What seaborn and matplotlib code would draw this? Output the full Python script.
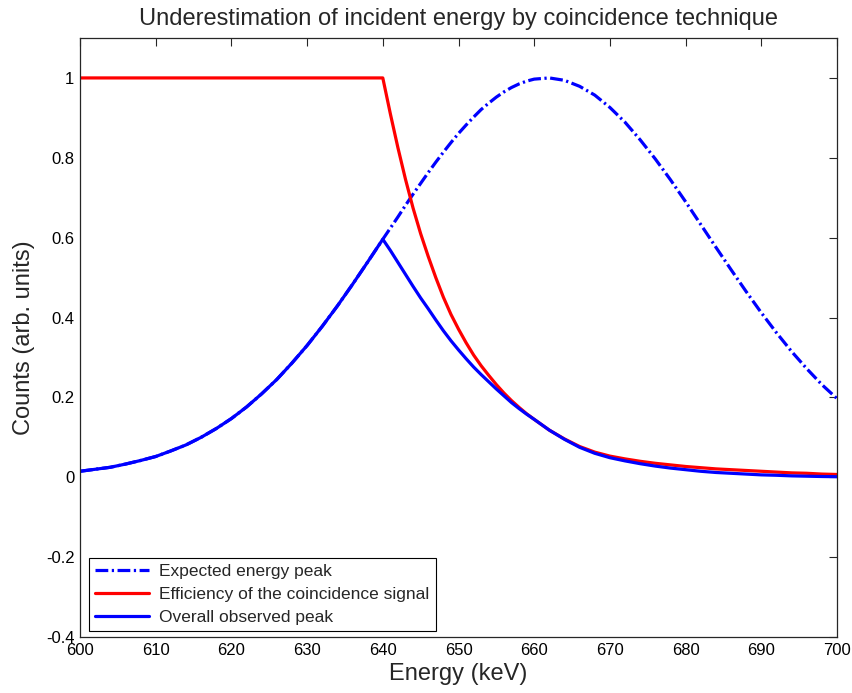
import matplotlib
matplotlib.use("Agg")
import matplotlib.pyplot as plt
import seaborn as sns
import pandas as pd

energy = [600, 602, 604, 606, 608, 610, 612, 614, 616, 618,
          620, 622, 624, 626, 628, 630, 632, 634, 636, 638,
          640, 641, 642, 643, 644, 645, 646, 647, 648, 649,
          650, 651, 652, 653, 654, 655, 656, 657, 658, 659,
          660, 662, 664, 666, 668, 670, 672, 674, 676, 678,
          680, 682, 684, 686, 688, 690, 692, 694, 696, 698, 700]

expected = [0.015, 0.020, 0.025, 0.033, 0.042, 0.052, 0.066, 0.081, 0.100, 0.122,
            0.147, 0.176, 0.209, 0.245, 0.286, 0.330, 0.378, 0.429, 0.483, 0.539,
            0.596, 0.624, 0.652, 0.681, 0.709, 0.736, 0.763, 0.789, 0.814, 0.838,
            0.861, 0.882, 0.902, 0.921, 0.937, 0.952, 0.965, 0.976, 0.985, 0.992,
            0.997, 1.000, 0.994, 0.979, 0.957, 0.926, 0.889, 0.845, 0.797, 0.745,
            0.690, 0.633, 0.576, 0.520, 0.465, 0.412, 0.362, 0.315, 0.272, 0.232, 0.197]

efficiency = [1.0, 1.0, 1.0, 1.0, 1.0, 1.0, 1.0, 1.0, 1.0, 1.0,
              1.0, 1.0, 1.0, 1.0, 1.0, 1.0, 1.0, 1.0, 1.0, 1.0,
              1.0, 0.910, 0.825, 0.746, 0.674, 0.610, 0.553, 0.500, 0.451, 0.408,
              0.371, 0.337, 0.306, 0.279, 0.255, 0.232, 0.211, 0.192, 0.175, 0.159,
              0.145, 0.118, 0.096, 0.077, 0.063, 0.053, 0.046, 0.040, 0.035, 0.031,
              0.027, 0.024, 0.021, 0.019, 0.017, 0.015, 0.013, 0.011, 0.010, 0.008, 0.007]

observed = [0.015, 0.020, 0.025, 0.033, 0.042, 0.052, 0.066, 0.081, 0.100, 0.122,
            0.147, 0.176, 0.209, 0.245, 0.286, 0.330, 0.378, 0.429, 0.483, 0.539,
            0.596, 0.568, 0.538, 0.508, 0.478, 0.449, 0.422, 0.394, 0.367, 0.342,
            0.319, 0.297, 0.276, 0.257, 0.239, 0.221, 0.204, 0.187, 0.172, 0.158,
            0.145, 0.118, 0.095, 0.075, 0.060, 0.049, 0.041, 0.034, 0.028, 0.023,
            0.019, 0.015, 0.012, 0.010, 0.008, 0.006, 0.005, 0.0035, 0.0027, 0.0019, 0.0014]

labels = ["Expected energy peak", "Efficiency of the coincidence signal", "Overall observed peak"]
x_ticks = [600, 610, 620, 630, 640, 650, 660, 670, 680, 690, 700]
y_ticks = [-0.4, -0.2, 0, 0.2, 0.4, 0.6, 0.8, 1]
y_tick_labels = ["-0.4", "-0.2", "0", "0.2", "0.4", "0.6", "0.8", "1"]

sns.set_style("white")
plt.rcParams["font.family"] = ["Liberation Sans", "DejaVu Sans"]

df = pd.DataFrame({"energy": energy, "expected": expected,
                   "efficiency": efficiency, "observed": observed})

fig = plt.figure(figsize=(8.52, 6.93), dpi=100)
ax = fig.add_axes([80 / 852, 1 - 637 / 693, (837 - 80) / 852, (637 - 38) / 693])

sns.lineplot(data=df, x="energy", y="expected", ax=ax, color="#0000ff",
             linewidth=2.3, label=labels[0])
ax.lines[-1].set_dashes([4, 1.1, 0.7, 1.1])
sns.lineplot(data=df, x="energy", y="efficiency", ax=ax, color="#ff0000",
             linewidth=2.3, label=labels[1])
sns.lineplot(data=df, x="energy", y="observed", ax=ax, color="#0000ff",
             linewidth=2.3, label=labels[2])

ax.set_xlim(600, 700)
ax.set_ylim(-0.4, 1.1)
ax.set_xticks(x_ticks)
ax.set_yticks(y_ticks)
ax.set_yticklabels(y_tick_labels)
ax.tick_params(direction="in", length=6, width=0.8, top=True, right=True,
               labelsize=12, colors="#262626", labelcolor="black", pad=4)
for s in ax.spines.values():
    s.set_visible(True)
    s.set_color("#262626")
    s.set_linewidth(0.9)

ax.set_xlabel("Energy (keV)", fontsize=17, labelpad=4)
ax.set_ylabel("Counts (arb. units)", fontsize=17, labelpad=8)
ax.set_title("Underestimation of incident energy by coincidence technique",
             fontsize=17, pad=9)

leg = ax.legend(loc="lower left", fontsize=12.5, frameon=True, fancybox=False,
                edgecolor="black", framealpha=1, borderpad=0.35,
                handlelength=3.1, handletextpad=0.6, labelspacing=0.45,
                borderaxespad=0, bbox_to_anchor=(9 / 757, 6 / 599))
leg.get_frame().set_linewidth(0.8)

fig.savefig("out.png", dpi=100, facecolor="white")
